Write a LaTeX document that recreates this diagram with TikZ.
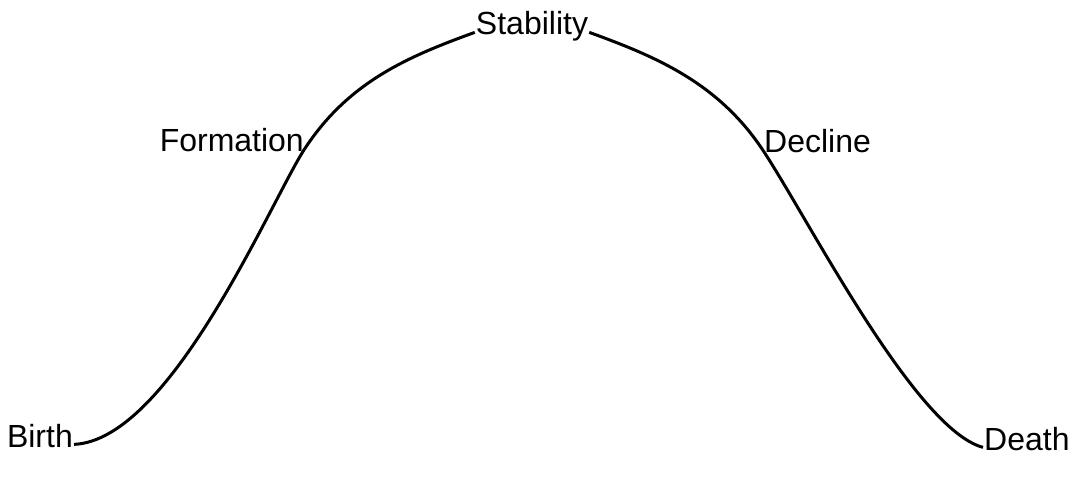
\documentclass[tikz,border=0pt]{standalone}
\usepackage{fontspec}
\setmainfont{Liberation Sans}
\usepackage{tikz}

\begin{document}
\begin{tikzpicture}[x=1pt, y=1pt, stage/.style = {inner sep=1pt, font=\fontsize{32}{37}\selectfont}, life/.style = {line width=3pt}]
            \useasboundingbox (0,0) rectangle (1073,491);

            \node[stage, anchor=base east] (Birth) at (74,44) {Birth};
            \node[stage, anchor=base east] (Formation) at (305,340) {Formation};
            \node[stage, anchor=base] (Stability) at (532,456) {Stability};
            \node[stage, anchor=base west] (Decline) at (763,338) {Decline};
            \node[stage, anchor=base west] (Death) at (983,41) {Death};

            \draw[life] (Birth.mid east) .. controls +(97,4) and +(-33,-50) .. (Formation.mid east)
                .. controls +(44,67) and +(-66,-24) .. (Stability.mid west);
            \draw[life] (Stability.mid east) .. controls +(66,-24) and +(-45,68) .. (Decline.mid west)
                .. controls +(45,-68) and +(-68,18) .. (Death.mid west);
        \end{tikzpicture}
\end{document}
